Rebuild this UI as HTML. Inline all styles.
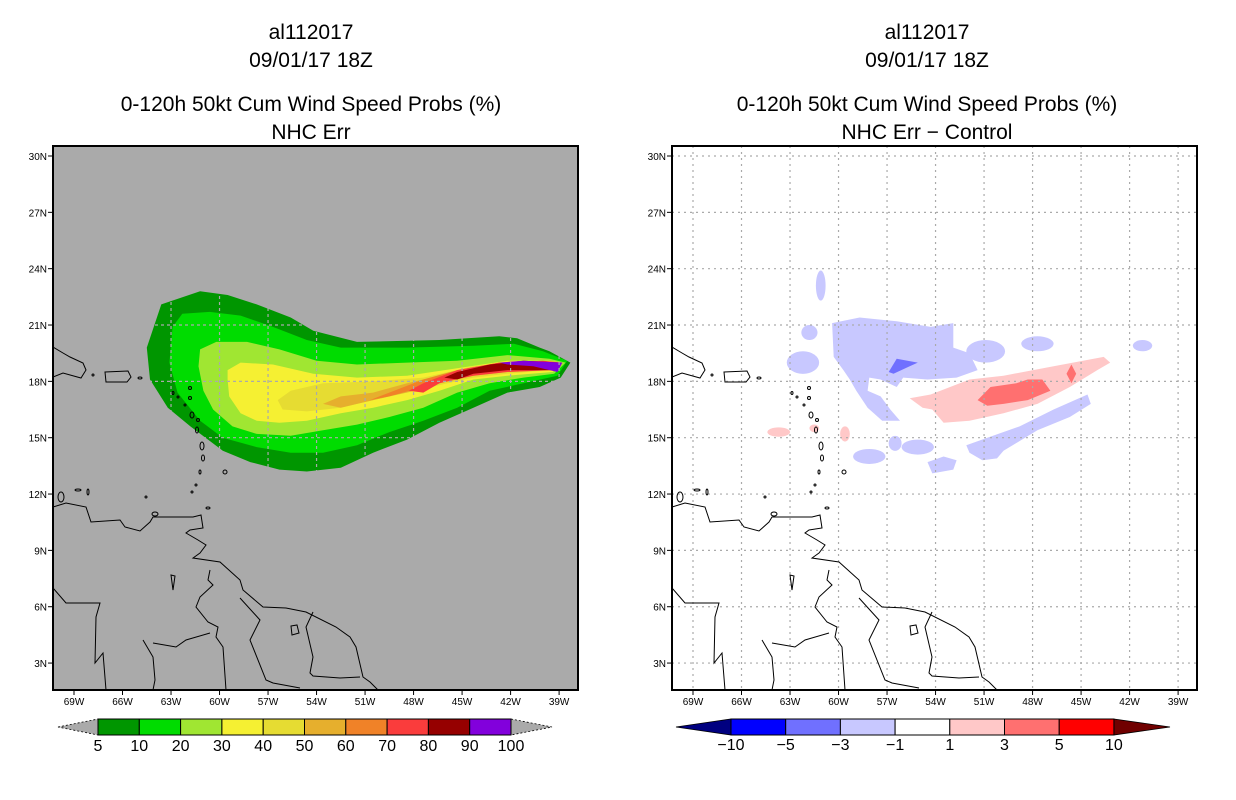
<!DOCTYPE html>
<html><head><meta charset="utf-8"><style>
html,body{margin:0;padding:0;background:#fff;}
svg{display:block;font-family:"Liberation Sans",sans-serif;}
</style></head><body>
<svg id="root" width="1236" height="800" viewBox="0 0 1236 800" xmlns="http://www.w3.org/2000/svg">
<defs>
<clipPath id="clipL"><rect x="53" y="146" width="525" height="544"/></clipPath>
<clipPath id="clipR"><rect x="672" y="146" width="524" height="544"/></clipPath>
<g id="basemap">
<path d="M53,347 L63,353 L70,357 L83,363 L86,370 L81,378 L63,373 L53,377" fill="none" stroke="#000" stroke-width="1"/>
<path d="M105,372 L128,371 L131,377 L127,382 L106,382 Z" fill="none" stroke="#000" stroke-width="1"/>
<path d="M53,507 L66,503 L86,507 L91,522 L120,520 L125,527 L140,531 L150,522 L153,517 L173,517 L193,517 L201,515 L203,528 L190,530 L186,533 L198,540 L206,545 L200,553 L193,558 L220,562 L240,580 L243,590 L263,607 L286,608 L306,612 L336,627 L350,637 L356,647 L363,677 L370,682 L378,690" fill="none" stroke="#000" stroke-width="1"/>
<path d="M210,570 L208,580 L213,585 L200,597 L196,607 L208,622 L218,627 L216,637 L223,647 L226,690" fill="none" stroke="#000" stroke-width="1"/>
<path d="M240,598 L260,620 L250,640 L266,680 L273,683 L300,688" fill="none" stroke="#000" stroke-width="1"/>
<path d="M313,612 L306,627 L313,657 L310,673 L313,676 L340,678 L360,677" fill="none" stroke="#000" stroke-width="1"/>
<path d="M53,588 L66,603 L100,603 L96,617 L95,663 L103,653 L106,690" fill="none" stroke="#000" stroke-width="1"/>
<path d="M143,640 L153,657 L155,680 L153,690 M153,643 L176,647 L186,640 L210,633" fill="none" stroke="#000" stroke-width="1"/>
<path d="M291,626 L297,625 L299,633 L292,635 Z M171,575 L175,576 L173,590 Z" fill="none" stroke="#000" stroke-width="1"/>
<g fill="none" stroke="#000" stroke-width="1">
<ellipse cx="190" cy="388" rx="1.5" ry="1.5"/><ellipse cx="190" cy="398" rx="1.5" ry="1.5"/>
<ellipse cx="173" cy="393" rx="1" ry="1.5"/><ellipse cx="178" cy="397" rx="1" ry="1"/>
<ellipse cx="185" cy="405" rx="1" ry="1"/><ellipse cx="192" cy="415" rx="2" ry="3"/>
<ellipse cx="198" cy="420" rx="1.5" ry="1.5"/><ellipse cx="197" cy="430" rx="1.5" ry="3"/>
<ellipse cx="202" cy="446" rx="2" ry="4"/><ellipse cx="203" cy="458" rx="1.5" ry="3"/>
<ellipse cx="200" cy="472" rx="1" ry="2"/><ellipse cx="196" cy="485" rx="1" ry="1"/>
<ellipse cx="192" cy="492" rx="1" ry="1"/><ellipse cx="225" cy="472" rx="2" ry="2"/>
<ellipse cx="208" cy="508" rx="2" ry="1"/><ellipse cx="61" cy="497" rx="3" ry="5"/>
<ellipse cx="78" cy="490" rx="3" ry="1"/><ellipse cx="88" cy="492" rx="1" ry="3"/>
<ellipse cx="146" cy="497" rx="1" ry="1"/><ellipse cx="155" cy="514" rx="3" ry="2"/>
<ellipse cx="93" cy="375" rx="1" ry="1"/><ellipse cx="140" cy="378" rx="2" ry="1"/>
</g>
</g>
</defs>
<g id="plots"></g>
</svg>
<script>
// ---------- data (lon in °W, lat in °N) ----------
const lonTicks = [69,66,63,60,57,54,51,48,45,42,39];
const latTicks = [30,27,24,21,18,15,12,9,6,3];
const probLevels = [5,10,20,30,40,50,60,70,80,90,100];
const probColors = ["#009600","#00dc00","#a0e632","#f5f032","#e6dc32","#e6af2d","#f08228","#fa3c3c","#960000","#8200dc"];
const prob5  = [[64.5,19.8],[63.6,22.1],[61.2,22.8],[59.5,22.6],[57.7,22.1],[55.6,21.4],[54.2,20.7],[51.5,20.1],[46.4,20.2],[42.7,20.4],[41.6,20.3],[40.2,19.8],[39.6,19.6],[38.3,19.0],[38.9,18.2],[40.2,17.7],[42.2,17.4],[44.3,16.6],[46.4,15.8],[48.4,14.9],[50.5,14.2],[52.5,13.4],[54.6,13.2],[56.3,13.3],[58.1,13.7],[59.8,14.3],[61.8,15.6],[63.2,16.6],[64.3,18.1]];
const prob10 = [[62.9,20.9],[62.3,21.6],[60.6,21.7],[58.7,21.5],[56.7,20.9],[54.6,20.2],[52.5,19.8],[48.4,19.8],[44.3,19.9],[41.8,20.0],[40.0,19.6],[38.5,19.1],[39.1,18.3],[41.2,17.9],[43.3,17.5],[45.3,16.6],[47.4,15.9],[49.5,15.3],[51.5,14.6],[53.6,14.2],[55.6,14.2],[57.7,14.5],[59.8,15.0],[61.2,15.9],[62.6,17.4],[63.1,19.0]];
const prob20 = [[61.2,19.7],[60.2,20.1],[58.3,20.1],[56.3,19.7],[54.0,19.1],[51.5,18.9],[48.4,19.0],[45.3,19.1],[42.2,19.4],[39.6,19.2],[38.6,19.0],[39.3,18.4],[41.2,18.2],[43.3,17.9],[45.3,17.4],[47.4,16.6],[49.5,16.1],[51.5,15.7],[53.6,15.4],[55.6,15.1],[57.7,15.2],[59.2,15.6],[60.4,16.5],[61.0,17.5],[61.3,18.8]];
const prob30 = [[59.5,18.6],[58.7,19.0],[56.7,18.9],[54.2,18.4],[51.5,18.2],[48.4,18.3],[45.3,18.7],[42.2,19.1],[39.7,19.1],[38.8,19.0],[39.4,18.5],[42.2,18.3],[44.3,18.1],[46.4,17.5],[48.4,17.0],[50.5,16.6],[52.5,16.3],[54.6,15.9],[56.3,15.8],[57.7,15.9],[58.7,16.3],[59.4,17.2],[59.5,18.1]];
const prob40 = [[56.4,17.0],[55.6,17.5],[53.6,17.9],[50.5,18.0],[47.4,18.2],[44.3,18.8],[41.2,19.1],[39.1,19.0],[39.6,18.6],[42.2,18.4],[44.3,18.2],[46.4,17.8],[48.4,17.4],[50.5,17.0],[52.5,16.6],[54.6,16.4],[56.1,16.5]];
const prob50 = [[53.6,16.8],[52.5,17.2],[50.5,17.4],[48.4,17.9],[46.4,18.3],[43.3,18.9],[40.6,19.1],[39.1,19.0],[39.7,18.6],[42.2,18.5],[45.3,18.2],[47.4,17.6],[49.5,17.2],[51.5,16.8],[52.5,16.6]];
const prob60 = [[50.7,17.0],[49.5,17.4],[47.4,18.1],[45.3,18.6],[42.7,19.0],[40.2,19.0],[39.1,18.9],[39.7,18.7],[42.2,18.6],[45.3,18.2],[47.4,17.7],[49.5,17.2]];
const prob70 = [[48.3,17.5],[47.4,17.9],[45.3,18.6],[42.7,19.0],[40.0,19.1],[38.8,19.0],[39.4,18.6],[42.2,18.5],[44.3,18.3],[46.4,17.9],[47.4,17.4]];
const prob80 = [[46.1,18.2],[45.3,18.5],[43.3,18.9],[41.2,19.1],[38.9,19.0],[39.4,18.6],[42.2,18.6],[44.3,18.4],[45.3,18.1]];
const prob90 = [[42.7,19.0],[41.2,19.1],[38.8,19.0],[39.1,18.5],[40.6,18.8],[42.2,18.9]];
const probPolys = [prob5,prob10,prob20,prob30,prob40,prob50,prob60,prob70,prob80,prob90];

const diffLevels = ["-10","-5","-3","-1","1","3","5","10"];
const diffColors = ["#0000ff","#7070ff","#c8c8ff","#ffffff","#ffc8c8","#ff7070","#ff0000"];
const diffNeg1a = [[60.4,21.1],[58.7,21.4],[56.4,21.2],[54.3,20.9],[52.9,21.1],[52.9,19.8],[51.9,19.5],[51.4,18.6],[52.7,18.2],[54.5,18.1],[56.0,18.2],[56.4,17.7],[57.4,18.1],[58.1,18.2],[58.2,17.5],[57.4,17.2],[56.8,16.5],[56.2,15.9],[57.3,15.9],[58.2,16.6],[58.9,17.5],[59.3,18.1],[59.7,18.6],[60.3,19.3]];
const diffNeg1b = [[50.8,15.0],[48.8,15.6],[46.7,16.5],[44.6,17.3],[44.4,16.8],[45.7,16.1],[47.7,15.4],[49.8,14.3],[50.2,13.9],[51.1,13.8],[51.9,14.2],[52.1,14.6]];
const diffNeg1c = [[54.5,13.7],[53.5,14.0],[52.7,13.8],[52.9,13.3],[54.2,13.1]];
const diffNeg3 = [[56.9,18.5],[56.4,19.2],[55.1,19.0],[55.6,18.8],[56.6,18.4]];
const diffPos1 = [[55.6,17.1],[54.3,17.3],[51.9,18.1],[49.8,18.3],[46.7,18.8],[43.6,19.3],[43.2,19.0],[44.0,18.6],[45.7,17.7],[47.7,16.8],[49.8,16.3],[51.9,15.9],[53.5,15.8],[54.2,16.5],[54.8,16.6]];
const diffPos3 = [[51.4,17.0],[50.6,17.7],[49.0,17.9],[48.3,18.1],[47.4,18.1],[46.9,17.5],[48.3,17.0],[49.8,16.8],[50.8,16.7]];
const diffPos3b = [[45.6,18.9],[45.3,18.4],[45.6,17.9],[45.9,18.4]];
// small blobs: lon, lat, half-width(deg lon), half-height(deg lat), colour index
const blobLon = [50.9,47.7,41.2,62.2,61.8,55.1,58.1,61.1,56.5,63.7,61.5,59.6];
const blobLat = [19.6,20.0,19.9,19.0,20.6,14.5,14.0,23.1,14.7,15.3,15.5,15.2];
const blobRx  = [1.2,1.0,0.6,1.0,0.5,1.0,1.0,0.3,0.4,0.7,0.3,0.3];
const blobRy  = [0.6,0.4,0.3,0.6,0.4,0.4,0.4,0.8,0.4,0.25,0.2,0.4];
const blobC   = [2,2,2,2,2,2,2,2,2,4,4,4];

// ---------- axis functions ----------
function X(lon, off){ return off + 74 + (69 - lon) * 16.17; }
function Y(lat){ return 156 + (30 - lat) * 18.78; }

const NS = "http://www.w3.org/2000/svg";
const plots = document.getElementById("plots");
function mk(tag, attrs, parent){ const e=document.createElementNS(NS,tag); for(const k in attrs) e.setAttribute(k,attrs[k]); (parent||plots).appendChild(e); return e; }
function ptsStr(poly, off){ return poly.map(p => X(p[0],off).toFixed(1)+","+Y(p[1]).toFixed(1)).join(" "); }

function titles(cx, l4){
  const lines=[["al112017",39,"title-storm-id"],["09/01/17 18Z",67,"title-date"],["0-120h 50kt Cum Wind Speed Probs (%)",111,"title-product"],[l4,139,"subtitle"]];
  lines.forEach(l=>{
    const t=mk("text",{x:cx,y:l[1],"text-anchor":"middle","font-size":"21"});
    
    
    t.textContent=l[0];
  });
}

function panel(off, left){
  const g=mk("g",{"clip-path":left?"url(#clipL)":"url(#clipR)"});
  
  
  const bg=mk("rect",{x:53+off,y:146,width:525,height:544,fill:left?"#aaaaaa":"#ffffff"},g);
  
  
  if(left){
    probPolys.forEach((poly,i)=>{
      const p=mk("polygon",{points:ptsStr(poly,off),fill:probColors[i]},g);
      
      
    });
  } else {
    [[diffNeg1a,2],[diffNeg1b,2],[diffNeg1c,2],[diffNeg3,1],[diffPos1,4],[diffPos3,5],[diffPos3b,5]].forEach((d,i)=>{
      const p=mk("polygon",{points:ptsStr(d[0],off),fill:diffColors[d[1]]},g);
      
      
    });
    blobLon.forEach((lo,i)=>{
      const e=mk("ellipse",{cx:X(lo,off),cy:Y(blobLat[i]),rx:blobRx[i]*16.17,ry:blobRy[i]*18.78,fill:diffColors[blobC[i]]},g);
      
      
    });
  }
  // grid
  lonTicks.forEach(lo=>{
    const l=mk("line",{x1:X(lo,off),x2:X(lo,off),y1:146,y2:690,stroke:"#aaaaaa","stroke-width":1.2,"stroke-dasharray":left?"3,3":"2,4"},g);
    
    
  });
  latTicks.forEach(la=>{
    const l=mk("line",{x1:53+off,x2:578+off,y1:Y(la),y2:Y(la),stroke:"#aaaaaa","stroke-width":1.2,"stroke-dasharray":left?"3,3":"2,4"},g);
    
    
  });
  const u=mk("use",{href:"#basemap",transform:"translate("+off+",0)"},g);
  
  
  const fr=mk("rect",{x:53+off,y:146,width:525,height:544,fill:"none",stroke:"#000","stroke-width":2});
  
  
  lonTicks.forEach(lo=>{
    mk("line",{x1:X(lo,off),x2:X(lo,off),y1:690,y2:695,stroke:"#000"});
    const t=mk("text",{x:X(lo,off),y:705,"text-anchor":"middle","font-size":"10"});
    
    
    t.textContent=lo+"W";
  });
  latTicks.forEach(la=>{
    mk("line",{x1:48+off,x2:53+off,y1:Y(la),y2:Y(la),stroke:"#000"});
    const t=mk("text",{x:47+off,y:Y(la)+4,"text-anchor":"end","font-size":"10"});
    
    
    t.textContent=la+"N";
  });
}

titles(311,"NHC Err");
titles(927,"NHC Err \u2212 Control");
panel(0,true);
panel(619,false);

// colour bar left
(function(){
  const x0=98, w=41.3, y0=719, h=16;
  const tl=mk("polygon",{points:`58,727 ${x0},${y0} ${x0},${y0+h}`,fill:"#aaaaaa",stroke:"#000","stroke-dasharray":"2,2","stroke-width":0.8});
  
  
  const xe=x0+w*probColors.length;
  const tr=mk("polygon",{points:`${xe},${y0} 552,727 ${xe},${y0+h}`,fill:"#aaaaaa",stroke:"#000","stroke-dasharray":"2,2","stroke-width":0.8});
  
  
  probColors.forEach((c,i)=>{
    const r=mk("rect",{x:x0+i*w,y:y0,width:w,height:h,fill:c,stroke:"#000","stroke-width":1});
    
    
  });
  probLevels.forEach((v,i)=>{
    const t=mk("text",{x:x0+i*w,y:751,"text-anchor":"middle","font-size":"16"});
    
    
    t.textContent=v;
  });
})();
// colour bar right
(function(){
  const x0=731, w=54.7, y0=719, h=16;
  const tl=mk("polygon",{points:`676,727 ${x0},${y0} ${x0},${y0+h}`,fill:"#000080",stroke:"#000","stroke-width":0.8});
  
  
  const xe=x0+w*diffColors.length;
  const tr=mk("polygon",{points:`${xe},${y0} 1170,727 ${xe},${y0+h}`,fill:"#700000",stroke:"#000","stroke-width":0.8});
  
  
  diffColors.forEach((c,i)=>{
    const r=mk("rect",{x:x0+i*w,y:y0,width:w,height:h,fill:c,stroke:"#000","stroke-width":1});
    
    
  });
  diffLevels.forEach((v,i)=>{
    const t=mk("text",{x:x0+i*w,y:750,"text-anchor":"middle","font-size":"16"});
    
    
    t.textContent=v.replace("-","\u2212");
  });
})();
</script>
</body></html>
